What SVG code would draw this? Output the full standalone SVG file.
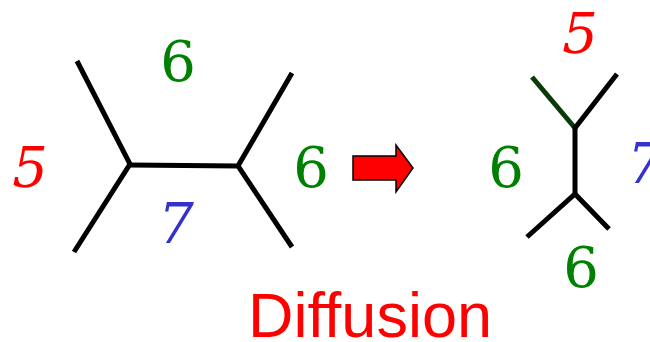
<svg xmlns="http://www.w3.org/2000/svg" width="650" height="342" viewBox="0 0 650 342">
<style>
.e{stroke:#000;stroke-width:5;fill:none;stroke-linecap:butt;stroke-linejoin:miter}
.n{font-family:'DejaVu Serif','Liberation Serif',serif;font-size:56px;text-anchor:middle}
.r{fill:#ff0000}.g{fill:#008000}.b{fill:#3333cc}
.i{font-style:italic}
</style>
<rect width="650" height="342" fill="#fff"/>
<g id="edges">
<polyline class="e" points="77,61 130,164 74,252"/>
<line class="e" x1="129" y1="165" x2="239" y2="166"/>
<polyline class="e" points="292,73 238,166 292,247"/>
<line class="e" x1="532" y1="77" x2="575" y2="128" style="stroke:#0a3a0a"/>
<line class="e" x1="617" y1="74" x2="575" y2="128"/>
<line class="e" x1="575" y1="126" x2="575" y2="196"/>
<polyline class="e" points="527,237 575,194 609,229"/>
</g>
<g id="labels-left">
<text class="n g" x="178" y="81">6</text>
<text class="n r i" x="30" y="187">5</text>
<text class="n g" x="311" y="187">6</text>
<text class="n b i" x="176" y="243">7</text>
</g>
<g id="arrow">
<polygon points="353,156 396,156 396,145 413,168 396,192 396,180 353,180" fill="#ff0000" stroke="#000" stroke-width="1.5"/>
</g>
<g id="labels-right">
<text class="n r i" x="580" y="53">5</text>
<text class="n g" x="506" y="187">6</text>
<text class="n b i" x="645" y="183">7</text>
<text class="n g" x="581" y="287">6</text>
</g>
<text x="370" y="337" font-family="'Liberation Sans',Arial,sans-serif" font-size="63" fill="#ff0000" text-anchor="middle">Diffusion</text>
</svg>
